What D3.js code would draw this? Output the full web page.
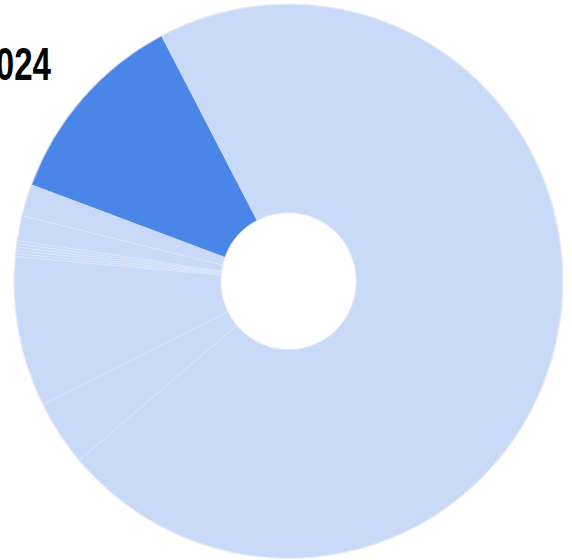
<!DOCTYPE html>
<html>
<head>
<meta charset="utf-8">
<script src="https://cdn.jsdelivr.net/npm/d3@7/dist/d3.min.js"></script>
<style>
  html, body { margin: 0; padding: 0; background: #fff; }
  svg { display: block; }
</style>
</head>
<body>
<svg id="chart" width="572" height="560"></svg>
<script>
// Data (percent shares, clockwise order starting at the large slice)
const categories = ["Other", "Cat B", "Cat C", "Cat D", "Cat E", "Cat F", "Cat G", "Cat H", "Cat I", "Cat J", "Highlighted"];
const values = [71.47, 3.83, 8.76, 0.18, 0.19, 0.19, 0.19, 0.19, 1.44, 1.86, 11.67];
const highlighted = ["Highlighted"];
const titleText = "2024";

const svg = d3.select("#chart");
const cx = 288.5, cy = 281.2;
const outerR = 274, innerR = 68;

const startDeg = 332.4;
const pie = d3.pie()
  .sort(null)
  .value(d => d.value)
  .startAngle(startDeg * Math.PI / 180)
  .endAngle(startDeg * Math.PI / 180 + 2 * Math.PI);

const data = categories.map((c, i) => ({ name: c, value: values[i] }));
const arcs = pie(data);

const arc = d3.arc().innerRadius(innerR).outerRadius(outerR);

const color = d3.scaleOrdinal()
  .domain([true, false])
  .range(["#4a86e8", "#c9daf8"]);

const g = svg.append("g")
  .attr("transform", `translate(${cx},${cy}) scale(1,1.01)`);

// soft edge rings
g.append("circle")
  .attr("r", outerR + 0.5)
  .attr("fill", "none")
  .attr("stroke", "#c8c8c8")
  .attr("stroke-opacity", 0.35)
  .attr("stroke-width", 1);
g.append("circle")
  .attr("r", innerR - 0.4)
  .attr("fill", "none")
  .attr("stroke", "#c8c8c8")
  .attr("stroke-opacity", 0.35)
  .attr("stroke-width", 0.8);

g.selectAll("path.slice")
  .data(arcs)
  .join("path")
  .attr("class", "slice")
  .attr("d", arc)
  .attr("fill", d => color(highlighted.includes(d.data.name)))
  .attr("stroke", "#dde7fa")
  .attr("stroke-width", 0.6);

svg.append("text")
  .attr("transform", "translate(51,80) scale(0.72,1)")
  .attr("text-anchor", "end")
  .attr("font-family", "'Liberation Sans', Arial, sans-serif")
  .attr("font-weight", "bold")
  .attr("font-size", 46)
  .attr("fill", "#000")
  .text(titleText);
</script>
</body>
</html>
